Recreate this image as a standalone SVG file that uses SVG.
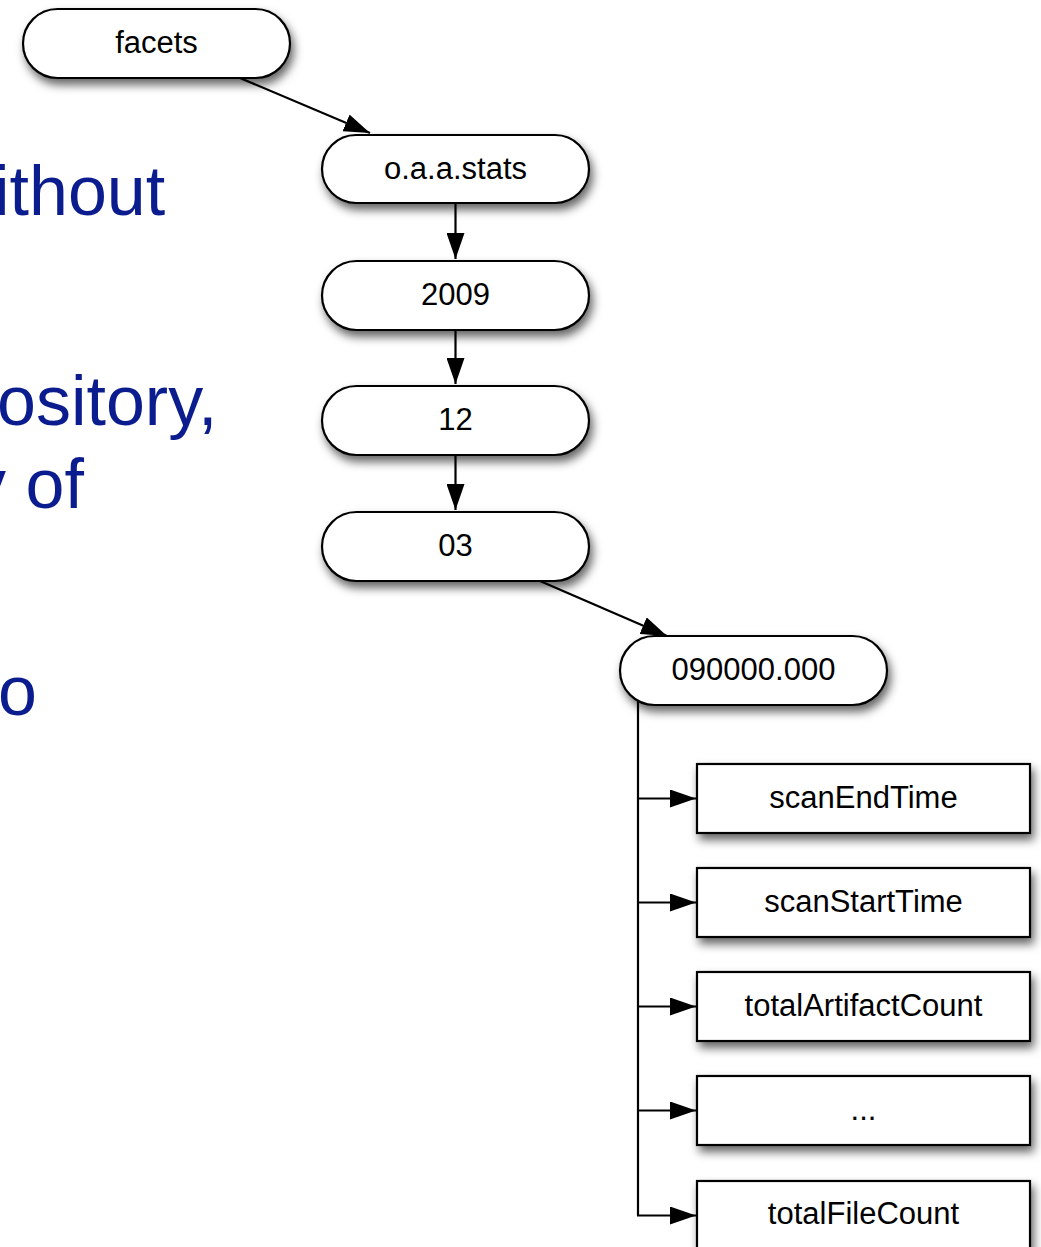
<svg xmlns="http://www.w3.org/2000/svg" width="1041" height="1247" viewBox="0 0 1041 1247">
<defs>
<filter id="sh" x="-20%" y="-30%" width="140%" height="190%">
<feDropShadow dx="3" dy="6" stdDeviation="5" flood-color="#000" flood-opacity="0.6"/>
</filter>
<marker id="ah" viewBox="0 0 26 18" refX="26" refY="9" markerWidth="26" markerHeight="18" markerUnits="userSpaceOnUse" orient="auto">
<path d="M0,0 L26,9 L0,18 z" fill="#000"/>
</marker>
<style>
.pill, .box { fill: #fff; stroke: #000; stroke-width: 2.2; filter: url(#sh); }
.lbl { font-family: "Liberation Sans", Arial, sans-serif; font-size: 31px; fill: #000; text-anchor: middle; }
.bg { font-family: "Liberation Sans", Arial, sans-serif; font-size: 70px; fill: #0b1c8f; }
.con { fill: none; stroke: #000; stroke-width: 2.2; }
.arr { marker-end: url(#ah); }
</style>
</defs>
<rect width="1041" height="1247" fill="#fff"/>

<g id="background-text">
<text class="bg" x="-6" y="215">ithout</text>
<text class="bg" x="-3" y="425">ository,</text>
<text class="bg" x="-29" y="508">y of</text>
<text class="bg" x="-2" y="715">o</text>
</g>

<g id="node-facets">
<rect class="pill" x="23" y="9" width="267" height="69" rx="34.5" ry="34.5"/>
<text class="lbl" x="156.5" y="53">facets</text>
</g>
<g id="node-stats">
<rect class="pill" x="322" y="135" width="267" height="68" rx="34" ry="34"/>
<text class="lbl" x="455.5" y="179">o.a.a.stats</text>
</g>
<g id="node-2009">
<rect class="pill" x="322" y="261" width="267" height="69" rx="34.5" ry="34.5"/>
<text class="lbl" x="455.5" y="305">2009</text>
</g>
<g id="node-12">
<rect class="pill" x="322" y="386" width="267" height="69" rx="34.5" ry="34.5"/>
<text class="lbl" x="455.5" y="430">12</text>
</g>
<g id="node-03">
<rect class="pill" x="322" y="512" width="267" height="69" rx="34.5" ry="34.5"/>
<text class="lbl" x="455.5" y="556">03</text>
</g>
<g id="node-090000">
<rect class="pill" x="620" y="636" width="267" height="69" rx="34.5" ry="34.5"/>
<text class="lbl" x="753.5" y="680">090000.000</text>
</g>
<g id="node-scanEndTime">
<rect class="box" x="697" y="764" width="333" height="69"/>
<text class="lbl" x="863.5" y="808">scanEndTime</text>
</g>
<g id="node-scanStartTime">
<rect class="box" x="697" y="868" width="333" height="69"/>
<text class="lbl" x="863.5" y="912">scanStartTime</text>
</g>
<g id="node-totalArtifactCount">
<rect class="box" x="697" y="972" width="333" height="69"/>
<text class="lbl" x="863.5" y="1016">totalArtifactCount</text>
</g>
<g id="node-ellipsis">
<rect class="box" x="697" y="1076" width="333" height="69"/>
<text class="lbl" x="863.5" y="1120">...</text>
</g>
<g id="node-totalFileCount">
<rect class="box" x="697" y="1181" width="333" height="69"/>
<text class="lbl" x="863.5" y="1224">totalFileCount</text>
</g>

<g id="connectors">
<line class="con arr" x1="240" y1="78" x2="370" y2="133"/>
<line class="con arr" x1="455.5" y1="203" x2="455.5" y2="259"/>
<line class="con arr" x1="455.5" y1="330" x2="455.5" y2="384"/>
<line class="con arr" x1="455.5" y1="455" x2="455.5" y2="510"/>
<line class="con arr" x1="540" y1="581" x2="667" y2="636"/>
<path class="con" d="M638,701 V1215.5"/>
<line class="con arr" x1="637" y1="798.5" x2="696" y2="798.5"/>
<line class="con arr" x1="637" y1="902.5" x2="696" y2="902.5"/>
<line class="con arr" x1="637" y1="1006.5" x2="696" y2="1006.5"/>
<line class="con arr" x1="637" y1="1110.5" x2="696" y2="1110.5"/>
<line class="con arr" x1="637" y1="1215.5" x2="696" y2="1215.5"/>
</g>
</svg>
